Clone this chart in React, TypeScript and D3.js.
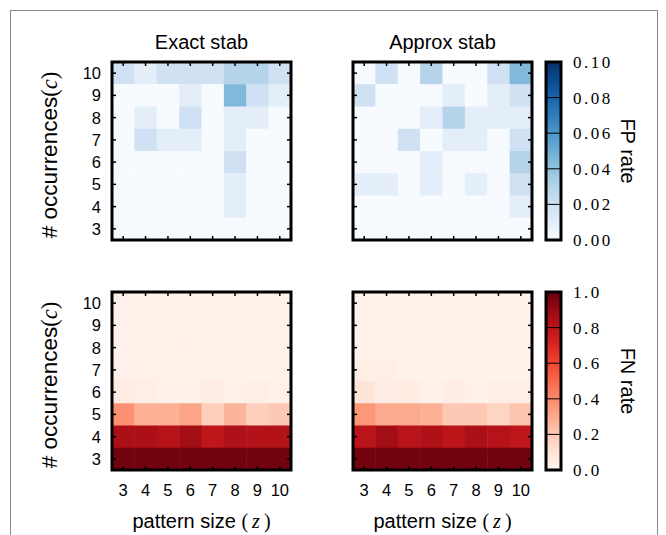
import React, { useEffect } from "react";
import * as d3 from "d3";

// pattern size (z) on x, occurrences (c) on y
const zValues = [3, 4, 5, 6, 7, 8, 9, 10];
const cValues = [10, 9, 8, 7, 6, 5, 4, 3];

const panelTitles = ["Exact stab", "Approx stab"];

// FP rate, rows c = 10 .. 3, columns z = 3 .. 10
const fpExact = [
  [0.02, 0.01, 0.02, 0.02, 0.02, 0.03, 0.03, 0.02],
  [0.0, 0.0, 0.0, 0.01, 0.0, 0.045, 0.02, 0.01],
  [0.0, 0.01, 0.0, 0.02, 0.0, 0.01, 0.01, 0.0],
  [0.0, 0.02, 0.01, 0.01, 0.0, 0.01, 0.0, 0.0],
  [0.0, 0.0, 0.0, 0.0, 0.0, 0.02, 0.0, 0.0],
  [0.0, 0.0, 0.0, 0.0, 0.0, 0.01, 0.0, 0.0],
  [0.0, 0.0, 0.0, 0.0, 0.0, 0.01, 0.0, 0.0],
  [0.0, 0.0, 0.0, 0.0, 0.0, 0.0, 0.0, 0.0],
];
const fpApprox = [
  [0.0, 0.02, 0.0, 0.03, 0.0, 0.0, 0.02, 0.045],
  [0.02, 0.0, 0.0, 0.0, 0.01, 0.0, 0.01, 0.02],
  [0.0, 0.0, 0.0, 0.01, 0.03, 0.01, 0.01, 0.01],
  [0.0, 0.0, 0.02, 0.0, 0.01, 0.01, 0.0, 0.02],
  [0.0, 0.0, 0.0, 0.01, 0.0, 0.0, 0.0, 0.03],
  [0.01, 0.01, 0.0, 0.01, 0.0, 0.01, 0.0, 0.02],
  [0.0, 0.0, 0.0, 0.0, 0.0, 0.0, 0.0, 0.01],
  [0.0, 0.0, 0.0, 0.0, 0.0, 0.0, 0.0, 0.0],
];

// FN rate
const fnExact = [
  [0.03, 0.02, 0.02, 0.02, 0.02, 0.02, 0.02, 0.02],
  [0.02, 0.02, 0.02, 0.02, 0.02, 0.02, 0.02, 0.02],
  [0.02, 0.02, 0.02, 0.03, 0.02, 0.02, 0.02, 0.02],
  [0.03, 0.03, 0.02, 0.02, 0.02, 0.02, 0.02, 0.02],
  [0.06, 0.04, 0.03, 0.03, 0.05, 0.03, 0.04, 0.03],
  [0.38, 0.28, 0.28, 0.32, 0.18, 0.27, 0.18, 0.2],
  [0.85, 0.85, 0.82, 0.87, 0.79, 0.84, 0.83, 0.83],
  [0.98, 0.98, 0.98, 0.98, 0.98, 0.98, 0.98, 0.98],
];
const fnApprox = [
  [0.02, 0.02, 0.02, 0.02, 0.02, 0.02, 0.02, 0.02],
  [0.02, 0.02, 0.02, 0.02, 0.02, 0.02, 0.02, 0.02],
  [0.02, 0.02, 0.02, 0.02, 0.02, 0.02, 0.02, 0.02],
  [0.04, 0.04, 0.02, 0.02, 0.02, 0.02, 0.02, 0.02],
  [0.09, 0.05, 0.06, 0.03, 0.05, 0.03, 0.04, 0.04],
  [0.36, 0.3, 0.3, 0.28, 0.2, 0.2, 0.16, 0.22],
  [0.81, 0.87, 0.81, 0.84, 0.8, 0.85, 0.82, 0.79],
  [0.98, 0.98, 0.98, 0.98, 0.98, 0.98, 0.98, 0.98],
];

const fpTicks = [0.0, 0.02, 0.04, 0.06, 0.08, 0.1];
const fnTicks = [0.0, 0.2, 0.4, 0.6, 0.8, 1.0];

const sans = "'Liberation Sans', Arial, sans-serif";
const serif = "'Liberation Serif', 'DejaVu Serif', serif";

const W = 179, H = 178;
const colX = [112, 353];
const rowY = [62, 292];
const cbX = 546, cbW = 15;

const x = d3.scaleBand<number>().domain(zValues).range([0, W]);
const y = d3.scaleBand<number>().domain(cValues).range([0, H]);

const rows = [
  { data: [fpExact, fpApprox], color: d3.scaleSequential(d3.interpolateBlues).domain([0, 0.1]), ticks: fpTicks, fmt: d3.format(".2f"), label: "FP rate", id: "fp" },
  { data: [fnExact, fnApprox], color: d3.scaleSequential(d3.interpolateReds).domain([0, 1]), ticks: fnTicks, fmt: d3.format(".1f"), label: "FN rate", id: "fn" },
];

function Heatmap({ grid, color, left, top, showY, showX, title }: any) {
  const tl = 4;
  return (
    <g transform={`translate(${left},${top})`}>
      {grid.map((row: number[], i: number) =>
        row.map((v, j) => (
          <rect key={`${i}-${j}`} x={x(zValues[j])} y={y(cValues[i])} width={x.bandwidth() + 0.5} height={y.bandwidth() + 0.5} fill={color(v)} />
        ))
      )}
      {zValues.map((z) => {
        const cx = x(z)! + x.bandwidth() / 2;
        return (
          <g key={"xt" + z}>
            <line x1={cx} x2={cx} y1={0} y2={tl} stroke="#000" strokeWidth={1.5} />
            <line x1={cx} x2={cx} y1={H} y2={H - tl} stroke="#000" strokeWidth={1.5} />
            {showX && (
              <text x={cx} y={H + 26} textAnchor="middle" fontFamily={sans} fontSize={16.5}>{z}</text>
            )}
          </g>
        );
      })}
      {cValues.map((c) => {
        const cy = y(c)! + y.bandwidth() / 2;
        return (
          <g key={"yt" + c}>
            <line x1={0} x2={tl} y1={cy} y2={cy} stroke="#000" strokeWidth={1.5} />
            <line x1={W} x2={W - tl} y1={cy} y2={cy} stroke="#000" strokeWidth={1.5} />
            {showY && (
              <text x={-11} y={cy + 6} textAnchor="end" fontFamily={sans} fontSize={16.5}>{c}</text>
            )}
          </g>
        );
      })}
      <rect x={0} y={0} width={W} height={H} fill="none" stroke="#000" strokeWidth={3} />
      {title && (
        <text x={W / 2} y={-13} textAnchor="middle" fontFamily={sans} fontSize={20}>{title}</text>
      )}
      {showY && (
        <text transform={`translate(-55,${H / 2 + 4}) rotate(-90)`} textAnchor="middle" fontFamily={sans} fontSize={22.5}>
          # occurrences<tspan fontFamily={serif}>(</tspan><tspan fontFamily={serif} fontStyle="italic">c</tspan><tspan fontFamily={serif}>)</tspan>
        </text>
      )}
      {showX && (
        <text x={W / 2} y={H + 58} textAnchor="middle" fontFamily={sans} fontSize={20}>
          pattern size <tspan fontFamily={serif} letterSpacing={4}>(</tspan><tspan fontFamily={serif} fontStyle="italic" letterSpacing={4}>z</tspan><tspan fontFamily={serif}>)</tspan>
        </text>
      )}
    </g>
  );
}

function Colorbar({ color, ticks, fmt, label, top, id }: any) {
  const dom = color.domain();
  const s = d3.scaleLinear().domain(dom).range([H, 0]);
  const stops = d3.range(0, 1.0001, 0.1);
  return (
    <g transform={`translate(${cbX},${top})`}>
      <defs>
        <linearGradient id={"grad-" + id} x1="0" y1="1" x2="0" y2="0">
          {stops.map((t) => (
            <stop key={t} offset={t} stopColor={color(dom[0] + t * (dom[1] - dom[0]))} />
          ))}
        </linearGradient>
      </defs>
      <rect x={0} y={0} width={cbW} height={H} fill={`url(#grad-${id})`} />
      {ticks.slice(1, -1).map((t: number) => (
        <line key={t} x1={0} x2={cbW} y1={s(t)} y2={s(t)} stroke="#000" strokeWidth={1} />
      ))}
      <rect x={0} y={0} width={cbW} height={H} fill="none" stroke="#000" strokeWidth={3} />
      {ticks.map((t: number) => (
        <text key={"l" + t} x={cbW + 12} y={s(t) + 6} fontFamily={serif} fontSize={17} letterSpacing={2.5}>{fmt(t)}</text>
      ))}
      <text transform={`translate(${cbW + 60},${H / 2}) rotate(90)`} textAnchor="middle" fontFamily={sans} fontSize={20}>{label}</text>
    </g>
  );
}

export default function App() {
  useEffect(() => {
    document.body.style.margin = "0";
  }, []);
  return (
    <svg width={666} height={535} style={{ display: "block", background: "#fff" }}>
      <rect x={10.5} y={10.5} width={647} height={600} fill="none" stroke="#888" strokeWidth={1} />
      {rows.map((r, ri) => (
        <g key={r.id}>
          {r.data.map((grid, ci) => (
            <Heatmap key={ci} grid={grid} color={r.color} left={colX[ci]} top={rowY[ri]} showY={ci === 0} showX={ri === 1} title={ri === 0 ? panelTitles[ci] : null} />
          ))}
          <Colorbar color={r.color} ticks={r.ticks} fmt={r.fmt} label={r.label} top={rowY[ri]} id={r.id} />
        </g>
      ))}
    </svg>
  );
}
